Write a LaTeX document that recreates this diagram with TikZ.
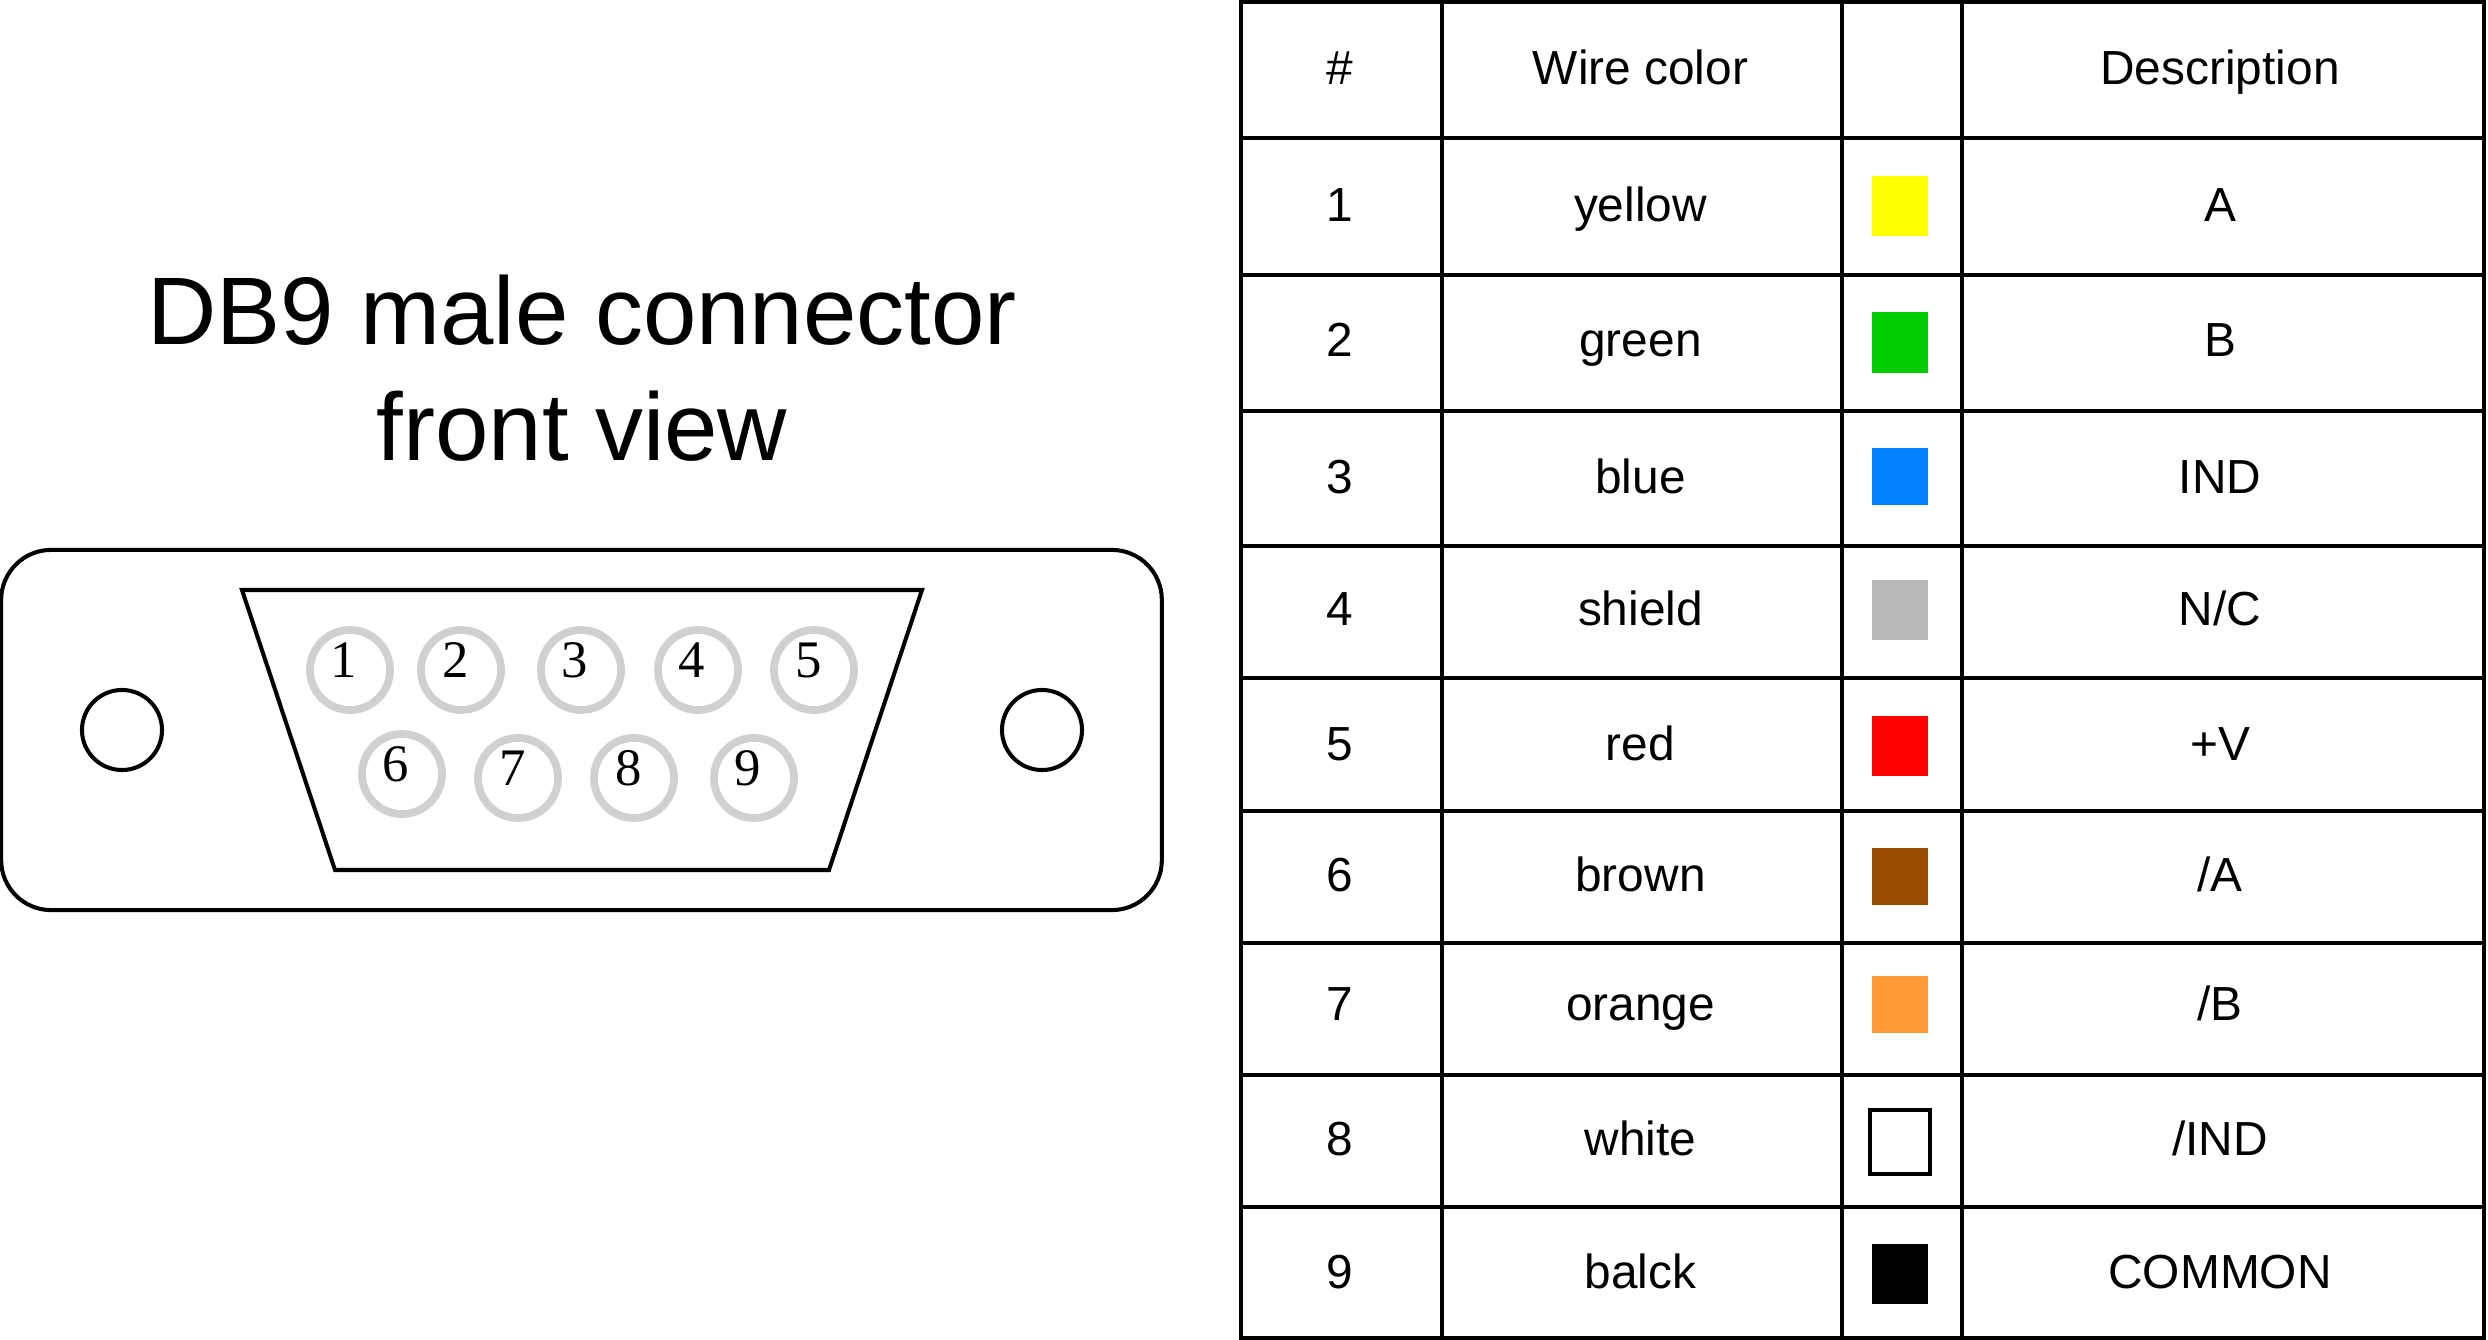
\documentclass[tikz,border=0pt]{standalone}
\usepackage{fontspec}
\setmainfont{Liberation Sans}
\newfontfamily\pinfont{Liberation Serif}
\usetikzlibrary{positioning}
\definecolor{wireyellow}{HTML}{FFFF00}
\definecolor{wiregreen}{HTML}{00CC00}
\definecolor{wireblue}{HTML}{007FFF}
\definecolor{wiregrey}{HTML}{B9B9B9}
\definecolor{wirered}{HTML}{FF0000}
\definecolor{wirebrown}{HTML}{994C00}
\definecolor{wireorange}{HTML}{FF9933}
\definecolor{pinring}{HTML}{D0D0D0}
\begin{document}
\begin{tikzpicture}[x=0.01cm, y=-0.01cm]
\tikzset{basicline/.style={draw=black, line width=1.15pt}, basicbox/.style={basicline, fill=white, align=center, text=black, inner sep=0pt, font=\fontsize{13.6pt}{16pt}\selectfont, text height=10.9pt, text depth=2.6pt}, numcell/.style={basicbox, minimum width=2.01cm, execute at end node={\kern0.85pt}}, wirecell/.style={basicbox, minimum width=4cm, execute at end node={\kern0.85pt}}, swatchcell/.style={basicbox, minimum width=1.2cm}, desccell/.style={basicbox, minimum width=5.22cm, execute at end node={\kern1.7pt}}, textup/.style={text height=10pt}, textupmore/.style={text height=9.1pt}, textdown/.style={text height=11.8pt}, swatch/.style={inner sep=0pt, minimum width=0.56cm, minimum height=0.6cm}, pinhole/.style={circle, draw=pinring, line width=2.2pt, fill=white, inner sep=0pt, minimum size=0.8cm}, pinlabel/.style={font=\pinfont\fontsize{15pt}{16pt}\selectfont, inner sep=0pt}, screwhole/.style={circle, basicline, fill=white, inner sep=0pt, minimum size=0.8cm}}
\useasboundingbox (0,0) rectangle (2488,1340);
\node[align=center, inner sep=0pt, font=\fontsize{27.3pt}{33pt}\selectfont] (title) at (582,368) {DB9 male connector\\front view};
\node[basicline, fill=white, rounded corners=0.5cm, minimum width=11.6cm, minimum height=3.6cm] (shell) at (581.5,730) {};
\draw[basicline] (242,590) -- (922,590) -- (829,870) -- (335,870) -- cycle;
\node[screwhole] (screwleft) at (122,730) {};
\node[screwhole] (screwright) at (1042,730) {};
\node[pinhole] (pin1) at (350,670) {};
\node[pinhole] (pin2) at (461,670) {};
\node[pinhole] (pin3) at (581,670) {};
\node[pinhole] (pin4) at (698,670) {};
\node[pinhole] (pin5) at (814,670) {};
\node[pinhole] (pin6) at (402,774) {};
\node[pinhole] (pin7) at (518,778) {};
\node[pinhole] (pin8) at (634,778) {};
\node[pinhole] (pin9) at (754,778) {};
\node[pinlabel] (pinnum1) at (344,660) {1};
\node[pinlabel] (pinnum2) at (456,660) {2};
\node[pinlabel] (pinnum3) at (575,660) {3};
\node[pinlabel] (pinnum4) at (692,660) {4};
\node[pinlabel] (pinnum5) at (809,660) {5};
\node[pinlabel] (pinnum6) at (396,764) {6};
\node[pinlabel] (pinnum7) at (513,768) {7};
\node[pinlabel] (pinnum8) at (629,768) {8};
\node[pinlabel] (pinnum9) at (748,768) {9};
\node[numcell, minimum height=1.36cm] (num0) at (1341.5,70) {\#};
\node[wirecell, minimum height=1.36cm] (wire0) at (1642,70) {Wire color};
\node[swatchcell, minimum height=1.36cm] (color0) at (1902,70) {};
\node[desccell, minimum height=1.36cm] (desc0) at (2223,70) {Description};
\node[numcell, minimum height=1.37cm] (num1) at (1341.5,206.5) {1};
\node[wirecell, minimum height=1.37cm] (wire1) at (1642,206.5) {yellow};
\node[swatchcell, minimum height=1.37cm] (color1) at (1902,206.5) {};
\node[desccell, minimum height=1.37cm] (desc1) at (2223,206.5) {A};
\node[numcell, textup, minimum height=1.36cm] (num2) at (1341.5,343) {2};
\node[wirecell, textup, minimum height=1.36cm] (wire2) at (1642,343) {green};
\node[swatchcell, minimum height=1.36cm] (color2) at (1902,343) {};
\node[desccell, textup, minimum height=1.36cm] (desc2) at (2223,343) {B};
\node[numcell, minimum height=1.35cm] (num3) at (1341.5,478.5) {3};
\node[wirecell, minimum height=1.35cm] (wire3) at (1642,478.5) {blue};
\node[swatchcell, minimum height=1.35cm] (color3) at (1902,478.5) {};
\node[desccell, minimum height=1.35cm] (desc3) at (2223,478.5) {IND};
\node[numcell, textup, minimum height=1.32cm] (num4) at (1341.5,612) {4};
\node[wirecell, textup, minimum height=1.32cm] (wire4) at (1642,612) {shield};
\node[swatchcell, minimum height=1.32cm] (color4) at (1902,612) {};
\node[desccell, textup, minimum height=1.32cm] (desc4) at (2223,612) {N/C};
\node[numcell, textdown, minimum height=1.33cm] (num5) at (1341.5,744.5) {5};
\node[wirecell, textdown, minimum height=1.33cm] (wire5) at (1642,744.5) {red};
\node[swatchcell, minimum height=1.33cm] (color5) at (1902,744.5) {};
\node[desccell, textdown, minimum height=1.33cm] (desc5) at (2223,744.5) {+V};
\node[numcell, minimum height=1.32cm] (num6) at (1341.5,877) {6};
\node[wirecell, minimum height=1.32cm] (wire6) at (1642,877) {brown};
\node[swatchcell, minimum height=1.32cm] (color6) at (1902,877) {};
\node[desccell, minimum height=1.32cm] (desc6) at (2223,877) {/A};
\node[numcell, textupmore, minimum height=1.32cm] (num7) at (1341.5,1009) {7};
\node[wirecell, textupmore, minimum height=1.32cm] (wire7) at (1642,1009) {orange};
\node[swatchcell, minimum height=1.32cm] (color7) at (1902,1009) {};
\node[desccell, textupmore, minimum height=1.32cm] (desc7) at (2223,1009) {/B};
\node[numcell, minimum height=1.32cm] (num8) at (1341.5,1141) {8};
\node[wirecell, minimum height=1.32cm] (wire8) at (1642,1141) {white};
\node[swatchcell, minimum height=1.32cm] (color8) at (1902,1141) {};
\node[desccell, minimum height=1.32cm] (desc8) at (2223,1141) {/IND};
\node[numcell, textdown, minimum height=1.31cm] (num9) at (1341.5,1272.5) {9};
\node[wirecell, textdown, minimum height=1.31cm] (wire9) at (1642,1272.5) {balck};
\node[swatchcell, minimum height=1.31cm] (color9) at (1902,1272.5) {};
\node[desccell, textdown, minimum height=1.31cm] (desc9) at (2223,1272.5) {COMMON};
\node[swatch, fill=wireyellow] (yellowbox) at (1900,206) {};
\node[swatch, fill=wiregreen] (greenbox) at (1900,342.5) {};
\node[swatch, fill=wireblue, minimum height=0.57cm] (bluebox) at (1900,476.5) {};
\node[swatch, fill=wiregrey] (greybox) at (1900,610) {};
\node[swatch, fill=wirered] (redbox) at (1900,746) {};
\node[swatch, fill=wirebrown, minimum height=0.57cm] (brownbox) at (1900,876.5) {};
\node[swatch, fill=wireorange, minimum height=0.57cm] (orangebox) at (1900,1004.5) {};
\node[basicline, fill=white, inner sep=0pt, minimum width=0.6cm, minimum height=0.64cm] (whitebox) at (1900,1142) {};
\node[swatch, fill=black] (blackbox) at (1900,1274) {};
\end{tikzpicture}
\end{document}
